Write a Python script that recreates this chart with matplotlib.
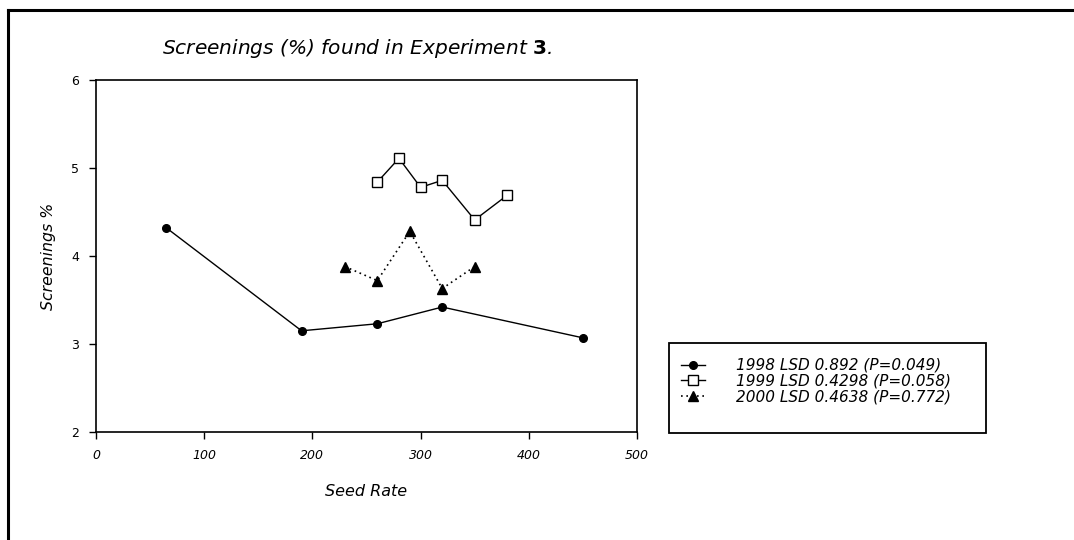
import matplotlib
matplotlib.use("Agg")
import matplotlib.pyplot as plt
from matplotlib.lines import Line2D
from matplotlib.patches import Rectangle

# Data
x_1998 = [65, 190, 260, 320, 450]
y_1998 = [4.32, 3.15, 3.23, 3.42, 3.07]
x_1999 = [260, 280, 300, 320, 350, 380]
y_1999 = [4.84, 5.11, 4.78, 4.86, 4.41, 4.69]
x_2000 = [230, 260, 290, 320, 350]
y_2000 = [3.88, 3.72, 4.28, 3.63, 3.88]
labels = ["1998 LSD 0.892 (P=0.049)",
          "1999 LSD 0.4298 (P=0.058)",
          "2000 LSD 0.4638 (P=0.772)"]
x_ticks = [0, 100, 200, 300, 400, 500]
y_ticks = [2, 3, 4, 5, 6]

plt.rcParams['font.family'] = ['DejaVu Sans']
plt.rcParams['mathtext.fontset'] = 'dejavusans'

fig = plt.figure(figsize=(10.74, 5.4), dpi=100)
W, H = 1074, 540
ax = fig.add_axes([96 / W, 1 - 432 / H, (637 - 96) / W, (432 - 80) / H])

ax.plot(x_1998, y_1998, color='black', lw=1.0, marker='o', markersize=5.5,
        markerfacecolor='black', label=labels[0])
ax.plot(x_1999, y_1999, color='black', lw=1.0, marker='s', markersize=7,
        markerfacecolor='white', markeredgecolor='black', markeredgewidth=1.0,
        label=labels[1])
ax.plot(x_2000, y_2000, color='black', lw=1.2, linestyle=(0, (1, 2.2)), marker='^',
        markersize=7, markerfacecolor='black', label=labels[2])

ax.set_xlim(0, 500)
ax.set_ylim(2, 6)
ax.set_xticks(x_ticks)
ax.set_yticks(y_ticks)
ax.set_xticklabels([str(v) for v in x_ticks], fontstyle='italic', fontsize=9)
ax.set_yticklabels([str(v) for v in y_ticks], fontsize=9)
ax.tick_params(axis='both', direction='out', length=5, width=1.0, color='black')
ax.tick_params(axis='x', pad=7)
ax.tick_params(axis='y', pad=7)
for s in ax.spines.values():
    s.set_linewidth(1.2)

ax.set_xlabel("Seed Rate", fontstyle='italic', fontsize=11.5, labelpad=16)
ax.set_ylabel("Screenings %", fontstyle='italic', fontsize=11.3, labelpad=11)

fig.text(162 / W, 1 - 49 / H, r"Screenings (%) found in Experiment $\mathbf{3}$.",
         fontstyle='italic', fontsize=14.5, ha='left', va='center')

leg = fig.legend(loc='upper left', bbox_to_anchor=(681 / W, 1 - 358 / H),
                 bbox_transform=fig.transFigure, borderaxespad=0,
                 frameon=False, prop={'style': 'italic', 'size': 11},
                 handlelength=1.6, handletextpad=2.0, labelspacing=0.05,
                 borderpad=0, numpoints=1)

# legend frame
fig.add_artist(Rectangle((669 / W, 1 - 433 / H), (986 - 669) / W, (433 - 343) / H,
                         transform=fig.transFigure, fill=False,
                         edgecolor='black', lw=1.3))

# figure border (top and left)
fig.add_artist(Line2D([8 / W, 8 / W], [0, 1 - 10 / H], transform=fig.transFigure,
                      color='black', lw=2.2))
fig.add_artist(Line2D([8 / W, 1], [1 - 10 / H, 1 - 10 / H], transform=fig.transFigure,
                      color='black', lw=2.2))

fig.savefig("out.png", dpi=100)
